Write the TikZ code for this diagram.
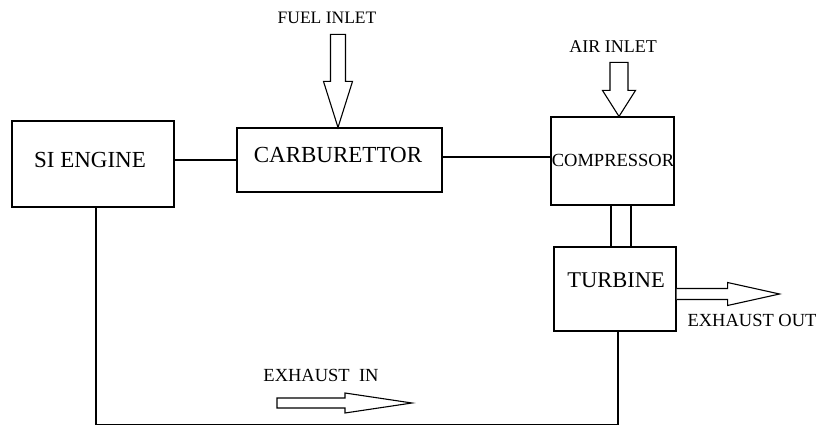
\documentclass[tikz,border=0pt]{standalone}
\usepackage{fontspec}
\setmainfont{Liberation Serif}
\usetikzlibrary{positioning}

\begin{document}
\begin{tikzpicture}[x=1pt, y=-1pt, line width=1.1pt,
    box/.style={draw, inner sep=0pt},
    lbl/.style={inner sep=0pt},
    blk/.style={draw, fill=white, line join=miter}]
      \useasboundingbox (0,0) rectangle (822,425);
      % blocks
      \node[box, minimum width=162pt, minimum height=86pt] (eng) at (93,164) {};
      \node[box, minimum width=205pt, minimum height=64pt] (carb) at (339.5,160) {};
      \node[box, minimum width=123pt, minimum height=88pt] (comp) at (612.5,161) {};
      \node[box, minimum width=122pt, minimum height=84pt] (turb) at (615,289) {};
      \node[lbl, font=\fontsize{23}{25}\selectfont] (engtxt) at (90,160) {SI ENGINE};
      \node[lbl, font=\fontsize{23}{25}\selectfont] (carbtxt) at (338,155) {CARBURETTOR};
      \node[lbl, font=\fontsize{18.5}{20}\selectfont] (comptxt) at (613,160) {COMPRESSOR};
      \node[lbl, font=\fontsize{22.5}{24}\selectfont] (turbtxt) at (616,280) {TURBINE};
      % labels
      \node[lbl, font=\fontsize{17.5}{19}\selectfont] (fuel) at (327,18) {FUEL INLET};
      \node[lbl, font=\fontsize{18}{20}\selectfont] (air) at (613,47) {AIR INLET};
      \node[lbl, font=\fontsize{18.5}{20}\selectfont] (exout) at (752,320) {EXHAUST OUT};
      \node[lbl, font=\fontsize{18.5}{20}\selectfont] (exin) at (321,375) {EXHAUST\ \ IN};
      % connections
      \draw (eng.east |- carb.west) -- (carb.west);
      \draw ([yshift=3pt]carb.east) -- ([yshift=3pt]carb.east -| comp.west);
      \draw ([xshift=-1.5pt]comp.south) -- ([xshift=-1.5pt]comp.south |- turb.north);
      \draw ([xshift=18.5pt]comp.south) -- ([xshift=18.5pt]comp.south |- turb.north);
      \draw ([xshift=3pt]turb.south) -- ++(0,93) -| ([xshift=3pt]eng.south);
      % block arrows
      \draw[blk] ([xshift=-1.5pt]carb.north) -- ++(-14.5,-46) -- ++(7,0) -- ++(0,-47)
            -- ++(15,0) -- ++(0,47) -- ++(7,0) -- cycle;
      \draw[blk] ([xshift=6.5pt]comp.north) -- ++(-16.5,-26) -- ++(7.5,0) -- ++(0,-28)
            -- ++(18,0) -- ++(0,28) -- ++(7.5,0) -- cycle;
      \coordinate (outtail) at ([yshift=-5pt]turb.east);
      \draw[blk] (outtail) ++(0,-5.5) -- ++(51,0) -- ++(0,-6) -- ++(52,11.5)
            -- ++(-52,11.5) -- ++(0,-6) -- ++(-51,0);
      \coordinate (intail) at (277,403);
      \draw[blk] (intail) ++(0,-5) -- ++(68,0) -- ++(0,-5) -- ++(67,10)
            -- ++(-67,10) -- ++(0,-5) -- ++(-68,0) -- cycle;
\end{tikzpicture}
\end{document}
